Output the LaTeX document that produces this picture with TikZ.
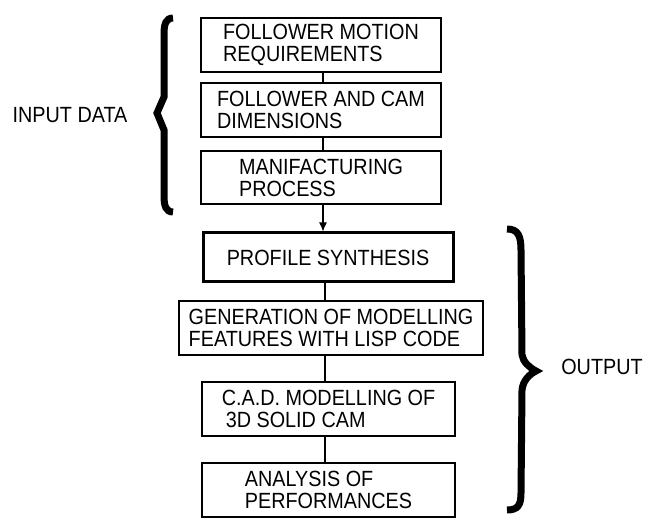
\documentclass[tikz,border=0pt]{standalone}
\usepackage{fontspec}
\setmainfont[FakeStretch=0.9]{Liberation Sans}
\usetikzlibrary{arrows.meta}
\begin{document}
\begin{tikzpicture}[x=1pt,y=-1pt,
  lbl/.style={font=\fontsize{22}{22}\selectfont, inner sep=0pt},
  boxn/.style={draw, line width=1.2pt, align=left, inner sep=0pt, lbl},
  thickbox/.style={boxn, line width=3pt},
  link/.style={line width=1.2pt},
  brace/.style={line width=7pt, line cap=butt, line join=miter}]
\useasboundingbox (0,0) rectangle (655,518);
\node[boxn, minimum width=240, minimum height=54] (b1) at (321,45) {FOLLOWER MOTION\\REQUIREMENTS};
\node[boxn, minimum width=240, minimum height=54] (b2) at (321,110) {FOLLOWER AND CAM\\DIMENSIONS};
\node[boxn, minimum width=240, minimum height=53] (b3) at (321,177.5) {MANIFACTURING\\PROCESS};
\node[thickbox, minimum width=250, minimum height=49] (ps) at (328,257.5) {PROFILE SYNTHESIS};
\node[boxn, minimum width=304, minimum height=54] (gen) at (331,328) {GENERATION OF MODELLING\\FEATURES WITH LISP CODE};
\node[boxn, minimum width=253, minimum height=54] (cad) at (328.5,409) {C.A.D. MODELLING OF\\\hspace*{4pt}3D SOLID CAM};
\node[boxn, minimum width=253, minimum height=54] (ana) at (328.5,490) {ANALYSIS OF\\PERFORMANCES};
\node[lbl] (inp) at (70,115) {INPUT DATA};
\node[lbl] (out) at (602,367) {OUTPUT};
\draw[link] ([xshift=2pt]b1.south) -- ([xshift=2pt]b1.south |- b2.north);
\draw[link] ([xshift=2pt]b2.south) -- ([xshift=2pt]b2.south |- b3.north);
\draw[link, -{Latex[length=9pt,width=8pt]}] ([xshift=2pt]b3.south) -- ([xshift=2pt]b3.south |- ps.north);
\draw[link] ([xshift=-3pt]ps.south) -- ([xshift=-3pt]ps.south |- gen.north);
\draw[link] ([xshift=-3pt]ps.south |- gen.south) -- ([xshift=-3pt]ps.south |- cad.north);
\draw[link] ([xshift=-3pt]ps.south |- cad.south) -- ([xshift=-3pt]ps.south |- ana.north);
% left brace
\draw[brace] (173,18) .. controls (166,18) and (164,24) .. (164,34) -- (164,97) -- (157,113) -- (164,130) -- (164,196) .. controls (164,206) and (166,212) .. (173,212);
% right brace
\draw[brace] (507,229) .. controls (518,229) and (521,236) .. (521,250) -- (522,355) .. controls (523,362) and (530,368) .. (536,371) .. controls (530,374) and (523,380) .. (522,390) -- (521,493) .. controls (521,505) and (518,510) .. (507,510);
\end{tikzpicture}
\end{document}
